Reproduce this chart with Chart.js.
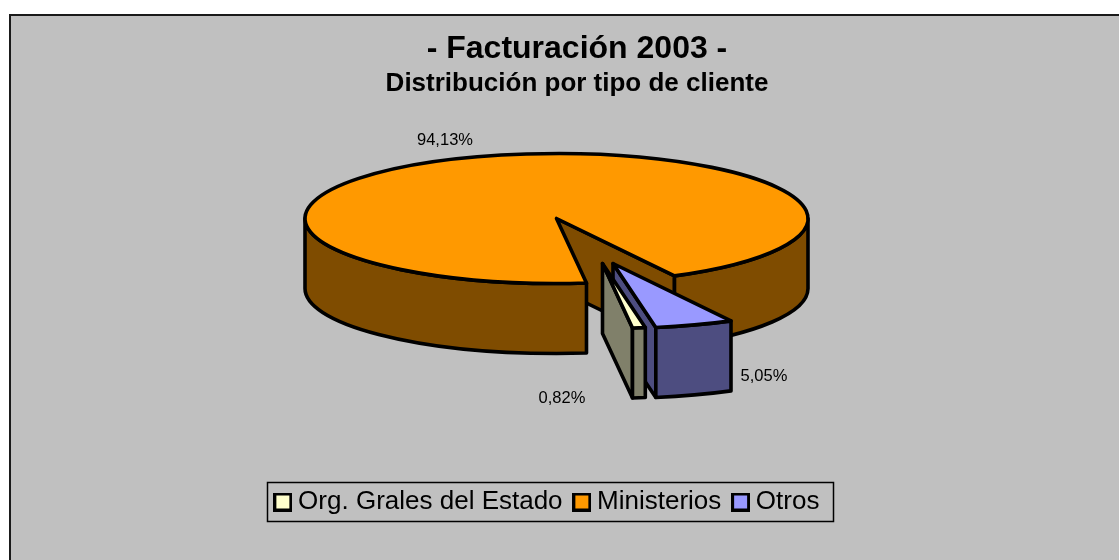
<!DOCTYPE html>
<html><head><meta charset="utf-8">
<style>html,body{margin:0;padding:0;background:#fff}canvas{display:block}</style>
<script src="https://cdn.jsdelivr.net/npm/chart.js@4"></script>
</head><body><div style="width:1119px;height:560px"><canvas id="c" width="1119" height="560"></canvas></div>
<script>
const categories = ['Org. Grales del Estado', 'Ministerios', 'Otros'];
const values = [0.82, 94.13, 5.05];
const valueLabels = ['0,82%', '94,13%', '5,05%'];
const topColors = ['#FFFFCC', '#FF9900', '#9999FF'];
const sideColors = ['#80806A', '#7F4C00', '#4D4D80'];
const titleText = '- Facturación 2003 -';
const subtitleText = 'Distribución por tipo de cliente';

// Layout of the 3D projection (pixels)
const PIE = {cx: 556.5, cy: 218.5, rx: 251.5, ry: 65, depth: 70};
const explode = [[46, 45], [0, 0], [56.5, 45]];
const labelAt = [[562, 398], [445, 140], [764, 376]];
const drawOrder = [1, 2, 0];
const FONT = '"Liberation Sans", Arial, sans-serif';

function keyBox(color) {
  const s = 19, cv = document.createElement('canvas');
  cv.width = s; cv.height = s;
  const g = cv.getContext('2d');
  g.fillStyle = color; g.fillRect(0, 0, s, s);
  g.strokeStyle = '#000'; g.lineWidth = 3; g.strokeRect(1.5, 1.5, s - 3, s - 3);
  return cv;
}

const pie3d = {
  id: 'pie3d',
  beforeDraw(chart) {
    const c = chart.ctx;
    c.save();
    c.fillStyle = '#C0C0C0'; c.fillRect(9, 14, 1110, 546);
    c.strokeStyle = '#1a1a1a'; c.lineWidth = 2;
    c.beginPath(); c.moveTo(10, 560); c.lineTo(10, 15); c.lineTo(1119, 15); c.stroke();
    c.restore();
  },
  afterLayout(chart) {
    // legend sits left of the title's centre in the reference
    chart.legend.left -= 27; chart.legend.right -= 27;
    chart.legend.legendHitBoxes.forEach(h => { h.left -= 27; });
  },
  beforeDatasetDraw(chart, args) {
    const c = chart.ctx, arcs = args.meta.data;
    const P = (cx, cy, a, z) => [cx + PIE.rx * Math.cos(a), cy + PIE.ry * Math.sin(a) + z];
    const line = () => { c.strokeStyle = '#000'; c.lineWidth = 3.6; c.lineJoin = 'round'; c.lineCap = 'round'; c.fill(); c.stroke(); };
    const wall = (cx, cy, a) => {
      const q = P(cx, cy, a, 0);
      c.beginPath(); c.moveTo(cx, cy); c.lineTo(q[0], q[1]); c.lineTo(q[0], q[1] + PIE.depth); c.lineTo(cx, cy + PIE.depth); c.closePath(); line();
    };
    drawOrder.forEach(i => {
      const arc = arcs[i];
      const p = arc.getProps(['x', 'y', 'startAngle', 'endAngle', 'outerRadius'], true);
      const cx = PIE.cx + explode[i][0], cy = PIE.cy + explode[i][1];
      const s = p.startAngle, e = p.endAngle;
      c.save();
      c.fillStyle = sideColors[i];
      if (Math.cos(e) > 0) wall(cx, cy, e);
      if (Math.cos(s) < 0) wall(cx, cy, s);
      [[0, Math.PI], [2 * Math.PI, 3 * Math.PI]].forEach(r => {
        const a = Math.max(s, r[0]), b = Math.min(e, r[1]);
        if (b <= a) return;
        c.beginPath();
        c.ellipse(cx, cy, PIE.rx, PIE.ry, 0, a, b);
        c.lineTo(cx + PIE.rx * Math.cos(b), cy + PIE.ry * Math.sin(b) + PIE.depth);
        c.ellipse(cx, cy + PIE.depth, PIE.rx, PIE.ry, 0, b, a, true);
        c.closePath();
        line();
      });
      // top face: the library's own arc, projected
      c.save();
      c.translate(cx, cy);
      c.scale(PIE.rx / p.outerRadius, PIE.ry / p.outerRadius);
      c.translate(-p.x, -p.y);
      arc.draw(c);
      c.restore();
      c.beginPath();
      c.moveTo(cx, cy);
      c.ellipse(cx, cy, PIE.rx, PIE.ry, 0, s, e);
      c.closePath();
      c.strokeStyle = '#000'; c.lineWidth = 3.6; c.lineJoin = 'round'; c.stroke();
      c.restore();
    });
    c.save();
    c.font = '16.5px ' + FONT; c.fillStyle = '#000'; c.textAlign = 'center'; c.textBaseline = 'middle';
    valueLabels.forEach((t, i) => c.fillText(t, labelAt[i][0], labelAt[i][1]));
    c.restore();
    return false;
  },
  afterDraw(chart) {
    const c = chart.ctx;
    c.save();
    c.strokeStyle = '#000'; c.lineWidth = 1.5;
    c.strokeRect(267.5, 482.5, 566, 39);
    c.restore();
  }
};

new Chart(document.getElementById('c'), {
  type: 'pie',
  data: {labels: categories, datasets: [{data: values, backgroundColor: topColors, borderWidth: 0}]},
  plugins: [pie3d],
  options: {
    responsive: false, animation: false, rotation: 170.2,
    layout: {padding: {top: 30, left: 35, right: 0, bottom: 35}},
    plugins: {
      tooltip: {enabled: false},
      title: {display: true, text: titleText, color: '#000', padding: 0, font: {family: FONT, size: 32, weight: 'bold', lineHeight: 1.2}},
      subtitle: {display: true, text: subtitleText, color: '#000', padding: 0, font: {family: FONT, size: 26, weight: 'bold', lineHeight: 1.2}},
      legend: {
        position: 'bottom',
        labels: {
          color: '#000', font: {family: FONT, size: 26}, padding: 17, usePointStyle: true, pointStyleWidth: 4.5, boxHeight: 18,
          generateLabels: () => categories.map((t, i) => ({text: t, fillStyle: topColors[i], strokeStyle: '#000', lineWidth: 3, pointStyle: keyBox(topColors[i]), index: i}))
        }
      }
    }
  }
});
</script></body></html>
